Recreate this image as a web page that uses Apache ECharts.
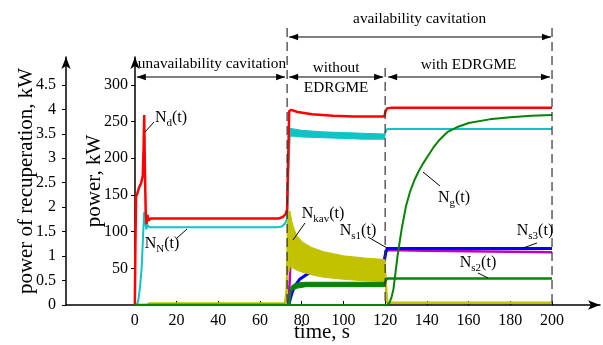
<!DOCTYPE html>
<html>
<head>
<meta charset="utf-8">
<script src="https://cdn.jsdelivr.net/npm/echarts@6/dist/echarts.min.js"></script>
<style>
  html, body { margin: 0; padding: 0; background: #fff; }
  #chart { width: 603px; height: 345px; }
</style>
</head>
<body>
<div id="chart"></div>
<script>
// Axis ticks
const timeTicks = [0, 20, 40, 60, 80, 100, 120, 140, 160, 180, 200];
const powerTicks = [50, 100, 150, 200, 250, 300];
const recupTicks = [0, 0.5, 1, 1.5, 2, 2.5, 3, 3.5, 4, 4.5];
// phase borders, s: start, cavitation starts, EDRGME on, end
const phaseBounds = [0, 73, 120, 200];

// N_d(t), red
const ndTime = [0, 0.3, 0.6, 1.2, 2, 3, 3.8, 4.2, 4.5, 4.8, 5.2, 5.6, 6, 6.5, 7.5, 20, 40, 60, 69, 71, 72.3, 73, 73.5, 74, 75, 78, 85, 95, 105, 115, 119.6, 120.3, 121, 123, 140, 160, 180, 200];
const ndPower = [0, 90, 148, 152, 160, 166, 176, 215, 259, 190, 128, 110, 123, 115, 118, 118, 118, 118, 118, 120, 124, 130, 200, 264, 266, 263, 260, 258, 257, 257, 257, 265, 268, 269, 269, 269, 269, 269];

// N_N(t), cyan
const nnTime = [0, 1, 1.7, 2.5, 3.3, 4, 4.5, 5, 5.5, 6, 7, 10, 30, 50, 68, 70.5, 72, 73, 73.6, 74.3, 76, 80, 90, 100, 110, 119.6, 120.2, 121, 123, 140, 200];
const nnPower = [0, 0, 7, 25, 52, 98, 127, 112, 103, 109, 106, 106, 106, 106, 106, 107, 111, 118, 180, 236, 236, 234, 233, 231, 231, 230, 236, 240, 240, 240, 240];
// oscillation band of N_N during cavitation
const nnBandTime = [74.2, 76, 80, 90, 100, 110, 119.6];
const nnBandLow = [230, 230, 229, 228, 227, 226, 226];
const nnBandHigh = [241, 240, 238, 236, 235, 234, 233];

// N_kav(t), yellow
const kavTime = [6, 7, 72, 72.8, 73.5, 74, 75, 77, 80, 85, 90, 100, 110, 119.6, 120.3, 121, 200];
const kavPower = [0, 2, 2, 20, 110, 128, 112, 95, 85, 77, 72, 66, 63, 61, 30, 3, 3];
const kavBandTime = [73.8, 74.5, 76, 78, 80, 85, 90, 100, 110, 119.8];
const kavBandLow = [45, 52, 50, 47, 45, 41, 38, 35, 33, 32];
const kavBandHigh = [126, 122, 105, 92, 85, 77, 72, 66, 63, 61];

// N_s1(t), magenta
const s1Time = [73.5, 74.2, 74.6, 75.5, 80, 100, 119.6, 120.2, 121, 140, 200];
const s1Power = [0, 30, 58, 60, 60, 60, 61, 72, 75, 74, 72];

// N_s3(t), blue
const s3Time = [73.8, 74.5, 75.5, 77, 79, 82, 85, 90, 100, 110, 119.6, 120.3, 121, 140, 200];
const s3Power = [0, 8, 18, 27, 35, 41, 45, 49, 54, 58, 60, 72, 77, 77, 77];

// N_s2(t), green
const s2Time = [0, 73.8, 74.6, 75.2, 78, 82, 90, 119.6, 120.2, 120.8, 122, 200];
const s2Power = [0, 0, 18, 22, 27, 28, 28, 28, 32, 36, 36, 36];
const s2BandTime = [74.8, 76, 78, 82, 90, 105, 119.6];
const s2BandLow = [19, 21, 23, 25, 25, 25, 25];
const s2BandHigh = [25, 28, 30, 31, 31, 31, 31];

// N_g(t), green
const ngTime = [0, 121, 122, 123, 124, 125, 126, 128, 130, 132, 134, 136, 138, 140, 143, 146, 150, 155, 160, 170, 180, 190, 200];
const ngPower = [0, 0, 3, 10, 22, 45, 68, 105, 135, 155, 170, 182, 192, 201, 214, 225, 236, 243, 248, 253, 256, 258, 259];

const serif = 'Liberation Serif';
const colors = {
  red: '#ff0000', cyan: '#10c4c4', yellow: '#c2c200',
  magenta: '#c000c0', blue: '#0000ff', green: '#078407'
};

function lineSeries(name, times, values, color, width, z) {
  return {
    name, type: 'line', z,
    data: times.map((t, i) => [t, values[i]]),
    symbol: 'none', showSymbol: false,
    lineStyle: { color, width },
    itemStyle: { color },
    silent: true
  };
}

// filled envelope between low and high
function bandSeries(name, times, low, high, color, z) {
  return {
    name, type: 'custom', z,
    data: times.map((t, i) => [t, low[i], high[i]]),
    encode: { x: 0, y: [1, 2] },
    silent: true,
    renderItem: function (params, api) {
      if (params.dataIndex !== 0) return;
      const top = times.map((t, i) => api.coord([t, high[i]]));
      const bottom = times.map((t, i) => api.coord([t, low[i]])).reverse();
      return {
        type: 'polygon',
        shape: { points: top.concat(bottom) },
        style: { fill: color, stroke: color, lineWidth: 1 }
      };
    }
  };
}

const chart = echarts.init(document.getElementById('chart'));

const axisText = { fontFamily: serif, fontSize: 16, color: '#000' };
const nameText = { fontFamily: serif, fontSize: 21, color: '#000' };
const gridLeft = 66;

chart.setOption({
  animation: false,
  backgroundColor: '#fff',
  grid: { left: gridLeft, right: 3, top: 57, bottom: 40, containLabel: false, outerBoundsMode: 'none' },
  xAxis: {
    type: 'value', min: -33, max: 223,
    axisLine: { show: true, onZero: false, symbol: ['none', 'arrow'], symbolSize: [7, 12],
      lineStyle: { color: '#000', width: 1.5 } },
    axisTick: { show: true, inside: true, length: 4, customValues: timeTicks, lineStyle: { color: '#000' } },
    axisLabel: { customValues: timeTicks, margin: 8, ...axisText },
    splitLine: { show: false },
    name: 'time, s', nameLocation: 'middle', nameGap: 17, nameMoveOverlap: false,
    nameTextStyle: { ...nameText, padding: [0, 22, 0, 0] }
  },
  yAxis: [
    {
      // power axis, moved right so it stands on t = 0
      type: 'value', min: 0, max: 338, position: 'left', offset: -69,
      axisLine: { show: true, onZero: false, symbol: ['none', 'arrow'], symbolSize: [7, 12],
        lineStyle: { color: '#000', width: 1.5 } },
      axisTick: { show: true, length: 4, customValues: powerTicks, lineStyle: { color: '#000' } },
      axisLabel: { customValues: powerTicks, margin: 7, ...axisText },
      splitLine: { show: false },
      name: 'power, kW', nameLocation: 'middle', nameGap: 30, nameMoveOverlap: false, nameTextStyle: nameText
    },
    {
      type: 'value', min: 0, max: 5.07, position: 'left', offset: 0,
      axisLine: { show: true, onZero: false, symbol: ['none', 'arrow'], symbolSize: [7, 12],
        lineStyle: { color: '#000', width: 1.5 } },
      axisTick: { show: true, length: 4, customValues: recupTicks, lineStyle: { color: '#000' } },
      axisLabel: { customValues: recupTicks, margin: 10, ...axisText },
      splitLine: { show: false },
      name: 'power of recuperation, kW', nameLocation: 'middle', nameGap: 29, nameMoveOverlap: false, nameTextStyle: nameText
    }
  ],
  // z keeps the drawing order: the yellow band hides magenta and blue
  series: [
    bandSeries('N_N band', nnBandTime, nnBandLow, nnBandHigh, colors.cyan, 2),
    lineSeries('N_N', nnTime, nnPower, colors.cyan, 2, 3),
    lineSeries('N_d', ndTime, ndPower, colors.red, 2.5, 4),
    lineSeries('N_s1', s1Time, s1Power, colors.magenta, 2.5, 5),
    lineSeries('N_s3', s3Time, s3Power, colors.blue, 3, 6),
    bandSeries('N_kav band', kavBandTime, kavBandLow, kavBandHigh, colors.yellow, 7),
    lineSeries('N_kav', kavTime, kavPower, colors.yellow, 2.5, 8),
    bandSeries('N_s2 band', s2BandTime, s2BandLow, s2BandHigh, colors.green, 9),
    lineSeries('N_s2', s2Time, s2Power, colors.green, 2.5, 10),
    lineSeries('N_g', ngTime, ngPower, colors.green, 2, 11)
  ]
});

// ---- annotations: phase borders, arrows, curve labels ----
const px = t => chart.convertToPixel({ xAxisIndex: 0 }, t);
const axisY = chart.convertToPixel({ yAxisIndex: 0 }, 0);
const xb = phaseBounds.map(px);

const graphics = [];
const ink = '#000';

function dashed(x, yTop) {
  graphics.push({ type: 'line', shape: { x1: x, y1: yTop, x2: x, y2: axisY },
    style: { stroke: '#333', lineWidth: 1.2, lineDash: [9, 5] }, z: 100 });
}
function arrowHead(x, y, dir) {
  graphics.push({ type: 'polygon', shape: { points: [[x, y], [x - dir * 9, y - 3.2], [x - dir * 9, y + 3.2]] },
    style: { fill: ink }, z: 100 });
}
function doubleArrow(xa, xb2, y) {
  graphics.push({ type: 'line', shape: { x1: xa, y1: y, x2: xb2, y2: y }, style: { stroke: ink, lineWidth: 1 }, z: 100 });
  arrowHead(xa, y, -1);
  arrowHead(xb2, y, 1);
}
function text(str, x, y) {
  graphics.push({ type: 'text', x, y, z: 100,
    style: { text: str, fontFamily: serif, fontSize: 15.3, fill: ink, align: 'center', verticalAlign: 'middle' } });
}
function curveLabel(sub, x, y, lx1, ly1, lx2, ly2) {
  graphics.push({ type: 'text', x, y, z: 100,
    style: {
      text: '{n|N}{s|' + sub + '}{n|(t)}', align: 'center', verticalAlign: 'middle',
      rich: {
        n: { fontFamily: serif, fontSize: 16, fill: ink, color: ink, lineHeight: 18, verticalAlign: 'middle' },
        s: { fontFamily: serif, fontSize: 11, fill: ink, color: ink, lineHeight: 22, verticalAlign: 'bottom' }
      }
    } });
  graphics.push({ type: 'line', shape: { x1: lx1, y1: ly1, x2: lx2, y2: ly2 }, style: { stroke: ink, lineWidth: 1 }, z: 100 });
}

dashed(xb[1], 28);
dashed(xb[2], 68);
dashed(xb[3], 28);

doubleArrow(xb[1] + 2, xb[3] - 1, 37);
doubleArrow(xb[0] + 2, xb[1] - 2, 77);
doubleArrow(xb[1] + 2, xb[2] - 2, 77);
doubleArrow(xb[2] + 3, xb[3] - 2, 77);

text('availability cavitation', (xb[1] + xb[3]) / 2, 19);
text('unavailability cavitation', (xb[0] + xb[1]) / 2 + 1, 64);
text('without', (xb[1] + xb[2]) / 2, 68);
text('EDRGME', (xb[1] + xb[2]) / 2, 88);
text('with EDRGME', (xb[2] + xb[3]) / 2, 65);

curveLabel('d', 171, 118, 145, 132, 154, 122);
curveLabel('N', 162, 244, 177, 238, 187, 229);
curveLabel('kav', 323, 214, 305, 223, 293, 240);
curveLabel('s1', 358, 231, 368, 237, 387, 248);
curveLabel('g', 454, 198, 423, 172, 440, 186);
curveLabel('s3', 535, 231, 537, 243, 523, 248);
curveLabel('s2', 478, 263, 478, 273, 488, 278);

chart.setOption({ graphic: graphics });
</script>
</body>
</html>
